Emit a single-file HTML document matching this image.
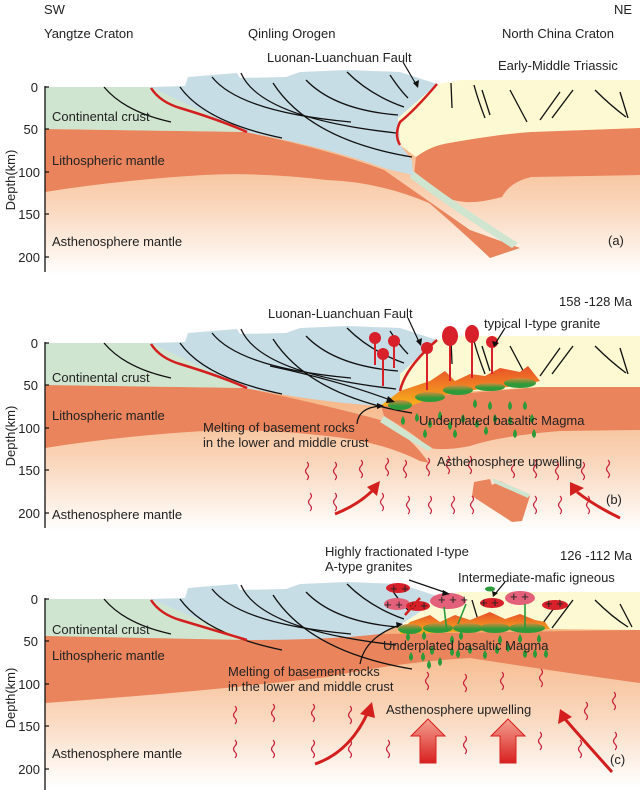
<!DOCTYPE html>
<html><head><meta charset="utf-8"><style>
html,body{margin:0;padding:0;background:#fff}
svg{display:block}
text{font-family:"Liberation Sans",Arial,sans-serif;font-size:13px;fill:#222}
</style></head><body>
<svg width="640" height="790" viewBox="0 0 640 790" xmlns="http://www.w3.org/2000/svg">
<defs>
<linearGradient id="ast" x1="0" y1="0" x2="0" y2="1">
<stop offset="0" stop-color="#f5b07c"/><stop offset="0.55" stop-color="#fad7bd"/><stop offset="1" stop-color="#ffffff"/>
</linearGradient>
<linearGradient id="melt" x1="0" y1="0" x2="0" y2="1">
<stop offset="0" stop-color="#e8502a"/><stop offset="1" stop-color="#f7b21c"/>
</linearGradient>
<linearGradient id="pond" x1="0" y1="0" x2="0" y2="1">
<stop offset="0" stop-color="#d88a3c"/><stop offset="0.6" stop-color="#2e9a3a"/>
</linearGradient>
<linearGradient id="bigarr" x1="0" y1="0" x2="0" y2="1">
<stop offset="0" stop-color="#f4a090"/><stop offset="1" stop-color="#d82020"/>
</linearGradient>
<g id="wave"><path d="M0,0 q3,3 0,6 q-3,3 0,6 q3,3 0,6" fill="none" stroke="#c8203c" stroke-width="1.2"/></g>
<g id="drop"><path d="M0,-5 q4,6 0,9 q-4,-3 0,-9z" fill="#2a9a3a"/></g>
<g id="orofaults" fill="none" stroke="#111" stroke-width="1.3">
<path d="M104,87 Q125,112 171,122"/>
<path d="M180,87 Q205,122 282,138"/>
<path d="M212,77 Q240,112 351,122"/>
<path d="M241,73 Q260,118 396,133"/>
<path d="M273,83 Q310,140 412,157"/>
<path d="M306,80 Q335,110 398,115"/>
<path d="M347,72 Q370,95 404,107"/>
<path d="M390,75 Q400,90 408,98"/>
</g>
<g id="nccfaults" fill="none" stroke="#111" stroke-width="1.3">
<path d="M451,83 L452,108"/><path d="M474,85 Q478,100 485,118"/><path d="M482,90 L490,115"/>
<path d="M510,90 L527,122"/><path d="M560,92 L540,120"/><path d="M573,90 L552,118"/>
<path d="M595,90 Q610,105 626,117"/><path d="M620,92 L628,118"/>
</g>
</defs>

<!-- header text -->
<text x="44" y="14">SW</text><text x="614" y="14">NE</text>
<text x="44" y="38">Yangtze Craton</text>
<text x="248" y="38">Qinling Orogen</text>
<text x="502" y="38">North China Craton</text>

<!-- ================= PANEL A ================= -->
<g>
<rect x="45" y="125" width="595" height="150" fill="url(#ast)"/>
<!-- left lith mantle + slab -->
<path d="M45,129 L245,132 Q330,150 384,170 Q420,195 470,230 L520,248 L490,258 Q455,225 429,203 Q380,182 327,180 Q260,172 204,175 Q120,180 45,192Z" fill="#e9845c"/>
<!-- ncc mantle -->
<path d="M414,175 L416,157 Q430,146 449,143 Q500,134 531,132 L640,128 L640,175 L531,177 Q510,182 502,197 Q480,203 465,202 Q440,200 420,180Z" fill="#e9845c"/>
<!-- slab green strip -->
<path d="M412,170 Q450,200 518,243 L512,248 Q460,215 410,178Z" fill="#cfe5cf"/>
<!-- green crust -->
<path d="M45,87 L160,87 L247,132 L45,129Z" fill="#cfe5cf"/>
<!-- blue orogen -->
<path d="M151,87 L185,86 L188,77 L237,73 L240,78 L286,77 L300,72 L347,70 L400,72 L437,84 L420,105 L398,118 L400,145 L412,160 L413,175 Q390,170 384,168 Q330,148 245,132 Z" fill="#c6dde6"/>
<!-- yellow ncc -->
<path d="M437,84 L460,80 L640,80 L640,128 L531,132 Q500,134 449,143 Q430,146 416,157 L400,145 L398,118 Z" fill="#fcf9d3"/>
<use href="#orofaults"/>
<use href="#nccfaults"/>
<path d="M151,88 Q160,102 180,108 Q220,120 247,132" fill="none" stroke="#d41f1f" stroke-width="2.5"/>
<path d="M437,84 Q415,110 400,122 Q394,135 400,145" fill="none" stroke="#d41f1f" stroke-width="2.5"/>
<path d="M403,62 L417,86" stroke="#111" stroke-width="1.2"/><path d="M413,83 L418,88 L419,80Z" fill="#111"/>
<!-- axis -->
<line x1="45" y1="86" x2="45" y2="272" stroke="#111" stroke-width="1.3"/>
<g stroke="#111" stroke-width="1.2"><line x1="45" y1="87" x2="49" y2="87"/><line x1="45" y1="129" x2="49" y2="129"/><line x1="45" y1="172" x2="49" y2="172"/><line x1="45" y1="214" x2="49" y2="214"/><line x1="45" y1="257" x2="49" y2="257"/></g>
<g text-anchor="end"><text x="38" y="92">0</text><text x="38" y="134">50</text><text x="40" y="177">100</text><text x="40" y="219">150</text><text x="40" y="262">200</text></g>
<text transform="translate(15,180) rotate(-90)" text-anchor="middle">Depth(km)</text>
<text x="267" y="62">Luonan-Luanchuan Fault</text>
<text x="498" y="70">Early-Middle Triassic</text>
<text x="52" y="121">Continental crust</text>
<text x="52" y="165">Lithospheric mantle</text>
<text x="52" y="246">Asthenosphere mantle</text>
<text x="608" y="245">(a)</text>
</g>

<!-- ================= PANEL B ================= -->
<g transform="translate(0,256)">
<rect x="45" y="125" width="595" height="150" fill="url(#ast)"/>
<path d="M45,129 L245,132 Q330,150 384,165 Q410,180 429,207 L420,205 Q380,185 327,180 Q260,172 204,175 Q120,180 45,192Z" fill="#e9845c"/>
<path d="M380,145 L539,131 L640,128 L640,174 L560,175 Q500,180 470,190 Q445,195 430,192 Q410,175 384,160Z" fill="#e9845c"/>
<path d="M384,160 Q410,178 432,192 L428,195 Q405,182 380,166Z" fill="#cfe5cf"/>
<!-- broken slab block -->
<path d="M474,226 L490,223 L492,229 L500,225 L530,240 L522,265 L512,266 L472,240Z" fill="#e9845c"/>
<path d="M492,222 L530,238 L528,242 L494,227Z" fill="#cfe5cf"/>
<path d="M45,87 L160,87 L247,132 L45,129Z" fill="#cfe5cf"/>
<path d="M151,87 L185,86 L188,77 L237,73 L240,78 L286,77 L300,72 L347,70 L400,72 L437,84 L420,105 L400,118 L400,135 L385,150 Q330,148 245,132 Z" fill="#c6dde6"/>
<path d="M437,84 L460,80 L640,80 L640,131 L539,131 L400,140 L400,118 Z" fill="#fcf9d3"/>
<use href="#orofaults"/>
<use href="#nccfaults"/>
<!-- melt zone -->
<path d="M380,150 L400,135 L430,125 L445,115 L455,125 L470,118 L485,120 L500,112 L520,116 L528,110 L540,125 L520,130 L480,133 L440,140 L410,150 Z" fill="url(#melt)"/>
<g fill="url(#pond)">
<ellipse cx="400" cy="149" rx="12" ry="5"/><ellipse cx="430" cy="141" rx="15" ry="5"/><ellipse cx="458" cy="134" rx="15" ry="5"/><ellipse cx="490" cy="131" rx="15" ry="4"/><ellipse cx="520" cy="127" rx="16" ry="5"/>
</g>
<!-- plutons -->
<g fill="#d8202a">
<circle cx="375" cy="82" r="6"/><rect x="374" y="84" width="2" height="25"/>
<circle cx="394" cy="85" r="6"/><rect x="393" y="87" width="2" height="25"/>
<circle cx="383" cy="98" r="6"/><rect x="382" y="100" width="2" height="30"/>
<circle cx="427" cy="92" r="6"/><rect x="426" y="94" width="2" height="40"/>
<ellipse cx="450" cy="80" rx="8" ry="10"/><rect x="449" y="85" width="2" height="40"/>
<ellipse cx="472" cy="78" rx="7" ry="9"/><rect x="471" y="82" width="2" height="40"/>
<circle cx="492" cy="86" r="6"/><rect x="491" y="88" width="2" height="30"/>
</g>
<path d="M151,88 Q160,102 180,108 Q220,120 247,132" fill="none" stroke="#d41f1f" stroke-width="2.5"/>
<path d="M437,84 Q405,112 400,135" fill="none" stroke="#d41f1f" stroke-width="2.5"/>
<path d="M408,62 L420,88" stroke="#111" stroke-width="1.2"/><path d="M416,85 L421,90 L422,82Z" fill="#111"/>
<path d="M505,72 L495,88" stroke="#111" stroke-width="1.2"/><path d="M492,85 L494,91 L499,87Z" fill="#111"/>
<path d="M270,110 Q340,125 390,144" fill="none" stroke="#111" stroke-width="1.2"/><path d="M388,140 L395,146 L386,147Z" fill="#111"/>
<path d="M357,168 Q358,152 380,150" fill="none" stroke="#111" stroke-width="1.2"/><path d="M377,147 L384,150 L377,153Z" fill="#111"/>
<g>
<use href="#drop" x="403" y="165"/><use href="#drop" x="417" y="162"/><use href="#drop" x="430" y="168"/><use href="#drop" x="440" y="160"/><use href="#drop" x="450" y="170"/><use href="#drop" x="463" y="163"/><use href="#drop" x="477" y="168"/><use href="#drop" x="495" y="163"/><use href="#drop" x="510" y="165"/><use href="#drop" x="532" y="163"/><use href="#drop" x="425" y="178"/><use href="#drop" x="455" y="178"/><use href="#drop" x="486" y="175"/><use href="#drop" x="515" y="178"/><use href="#drop" x="534" y="178"/>
<use href="#drop" x="475" y="148"/><use href="#drop" x="490" y="150"/><use href="#drop" x="510" y="150"/><use href="#drop" x="525" y="150"/>
</g>
<!-- waves -->
<g>
<use href="#wave" x="307" y="206"/><use href="#wave" x="335" y="206"/><use href="#wave" x="361" y="204"/><use href="#wave" x="387" y="202"/><use href="#wave" x="405" y="204"/><use href="#wave" x="428" y="202"/><use href="#wave" x="448" y="200"/><use href="#wave" x="470" y="200"/><use href="#wave" x="513" y="204"/><use href="#wave" x="535" y="204"/><use href="#wave" x="557" y="206"/><use href="#wave" x="583" y="206"/><use href="#wave" x="608" y="204"/>
<use href="#wave" x="310" y="237"/><use href="#wave" x="335" y="237"/><use href="#wave" x="382" y="237"/><use href="#wave" x="408" y="240"/><use href="#wave" x="430" y="240"/><use href="#wave" x="453" y="240"/><use href="#wave" x="472" y="240"/><use href="#wave" x="535" y="240"/><use href="#wave" x="560" y="240"/><use href="#wave" x="588" y="240"/>
</g>
<path d="M335,258 Q360,248 375,232" fill="none" stroke="#d41f1f" stroke-width="3"/><path d="M367,231 L380,225 L377,240Z" fill="#d41f1f"/>
<path d="M620,262 Q595,250 577,236" fill="none" stroke="#d41f1f" stroke-width="3"/><path d="M570,240 L570,226 L584,232Z" fill="#d41f1f"/>
<line x1="45" y1="86" x2="45" y2="272" stroke="#111" stroke-width="1.3"/>
<g stroke="#111" stroke-width="1.2"><line x1="45" y1="87" x2="49" y2="87"/><line x1="45" y1="129" x2="49" y2="129"/><line x1="45" y1="172" x2="49" y2="172"/><line x1="45" y1="214" x2="49" y2="214"/><line x1="45" y1="257" x2="49" y2="257"/></g>
<g text-anchor="end"><text x="38" y="92">0</text><text x="38" y="134">50</text><text x="40" y="177">100</text><text x="40" y="219">150</text><text x="40" y="262">200</text></g>
<text transform="translate(15,180) rotate(-90)" text-anchor="middle">Depth(km)</text>
<text x="632" y="50" text-anchor="end">158 -128 Ma</text>
<text x="268" y="62">Luonan-Luanchuan Fault</text>
<text x="484" y="72">typical I-type granite</text>
<text x="52" y="126">Continental crust</text>
<text x="52" y="164">Lithospheric mantle</text>
<text x="203" y="176">Melting of basement rocks</text>
<text x="203" y="191">in the lower and middle crust</text>
<text x="419" y="169">Underplated  basaltic Magma</text>
<text x="437" y="210">Asthenosphere upwelling</text>
<text x="52" y="263">Asthenosphere mantle</text>
<text x="606" y="248">(b)</text>
</g>

<!-- ================= PANEL C ================= -->
<g transform="translate(0,512)">
<rect x="45" y="115" width="595" height="160" fill="url(#ast)"/>
<path d="M45,122 L250,126 L380,122 L640,118 L640,171 Q560,160 470,146 Q400,150 327,165 Q200,180 45,191Z" fill="#e9845c"/>
<path d="M45,87 L160,87 L247,128 L45,124Z" fill="#cfe5cf"/>
<path d="M151,87 L185,86 L188,76 L237,72 L240,78 L286,77 L300,72 L347,70 L400,72 L437,84 L420,100 L405,110 L380,122 Q330,128 247,128 Z" fill="#c6dde6"/>
<path d="M437,84 L460,80 L640,80 L640,118 L540,117 L400,119 L405,110 L420,100 Z" fill="#fcf9d3"/>
<use href="#orofaults"/>
<g fill="none" stroke="#111" stroke-width="1.3"><path d="M560,88 L540,115"/><path d="M573,88 L552,116"/><path d="M595,88 Q612,105 628,115"/><path d="M620,92 L632,115"/><path d="M472,88 L478,108"/></g>
<path d="M400,120 L410,110 L430,103 L440,110 L455,103 L470,108 L490,100 L505,107 L520,102 L535,108 L545,110 L550,117 L400,122Z" fill="url(#melt)"/>
<g fill="url(#pond)">
<ellipse cx="410" cy="117" rx="12" ry="5"/><ellipse cx="438" cy="116" rx="15" ry="5"/><ellipse cx="468" cy="116" rx="15" ry="5"/><ellipse cx="495" cy="116" rx="15" ry="5"/><ellipse cx="527" cy="116" rx="18" ry="5"/>
</g>
<g>
<ellipse cx="397" cy="92" rx="13" ry="6" fill="#e2607a"/><ellipse cx="448" cy="89" rx="18" ry="8" fill="#e2607a"/><ellipse cx="520" cy="86" rx="15" ry="7" fill="#e2607a"/>
<ellipse cx="398" cy="76" rx="12" ry="5" fill="#d8202a"/><ellipse cx="418" cy="94" rx="12" ry="5" fill="#d8202a"/><ellipse cx="492" cy="91" rx="12" ry="5" fill="#d8202a"/><ellipse cx="555" cy="93" rx="13" ry="5" fill="#d8202a"/>
<path d="M444,95 L447,120 M466,92 L458,112 M525,92 L525,118" stroke="#2a9a3a" stroke-width="1.6" fill="none"/>
<ellipse cx="490" cy="77" rx="5" ry="2.5" fill="#2a9a3a"/>
</g>
<g font-size="9" fill="#222"><text x="390" y="81">+ +</text><text x="384" y="97">+ +</text><text x="438" y="92">+ + +</text><text x="480" y="95">+ +</text><text x="510" y="89">+ +</text><text x="545" y="96">+ +</text><text x="409" y="98">+ +</text></g>
<path d="M420,86 L405,103" stroke="#d41f1f" stroke-width="2.5"/>
<path d="M151,88 Q160,102 180,108 Q220,120 247,128" fill="none" stroke="#d41f1f" stroke-width="2.5"/>
<path d="M409,68 L447,81" stroke="#111" stroke-width="1.2"/><path d="M443,78 L450,82 L442,84Z" fill="#111"/>
<path d="M505,70 L495,82" stroke="#111" stroke-width="1.2"/><path d="M492,79 L493,85 L498,81Z" fill="#111"/>
<path d="M360,152 Q365,125 400,113" fill="none" stroke="#111" stroke-width="1.2"/><path d="M396,110 L403,112 L397,116Z" fill="#111"/>
<g>
<use href="#drop" x="408" y="125"/><use href="#drop" x="424" y="124"/><use href="#drop" x="452" y="128"/><use href="#drop" x="461" y="124"/><use href="#drop" x="500" y="128"/><use href="#drop" x="520" y="127"/><use href="#drop" x="539" y="127"/>
<use href="#drop" x="411" y="145"/><use href="#drop" x="423" y="145"/><use href="#drop" x="432" y="139"/><use href="#drop" x="452" y="140"/><use href="#drop" x="458" y="142"/><use href="#drop" x="470" y="138"/><use href="#drop" x="485" y="143"/><use href="#drop" x="497" y="138"/><use href="#drop" x="508" y="136"/><use href="#drop" x="525" y="142"/><use href="#drop" x="535" y="142"/><use href="#drop" x="546" y="142"/><use href="#drop" x="429" y="153"/><use href="#drop" x="440" y="150"/>
</g>
<g>
<use href="#wave" x="427" y="160"/><use href="#wave" x="465" y="162"/><use href="#wave" x="502" y="160"/><use href="#wave" x="541" y="157"/>
<use href="#wave" x="235" y="194"/><use href="#wave" x="273" y="192"/><use href="#wave" x="313" y="192"/><use href="#wave" x="350" y="194"/><use href="#wave" x="586" y="190"/><use href="#wave" x="614" y="180"/>
<use href="#wave" x="235" y="228"/><use href="#wave" x="273" y="228"/><use href="#wave" x="313" y="228"/><use href="#wave" x="350" y="228"/><use href="#wave" x="388" y="228"/><use href="#wave" x="465" y="224"/><use href="#wave" x="540" y="220"/><use href="#wave" x="580" y="228"/><use href="#wave" x="615" y="220"/>
</g>
<path d="M315,252 Q350,240 368,200" fill="none" stroke="#d41f1f" stroke-width="3"/><path d="M360,202 L372,190 L375,206Z" fill="#d41f1f"/>
<path d="M612,260 Q585,230 565,207" fill="none" stroke="#d41f1f" stroke-width="3"/><path d="M558,212 L560,197 L572,205Z" fill="#d41f1f"/>
<path d="M428,207 L445,224 L436,224 L436,251 L420,251 L420,224 L411,224Z" fill="url(#bigarr)" stroke="#d82020" stroke-width="1"/>
<path d="M508,207 L525,224 L516,224 L516,251 L500,251 L500,224 L491,224Z" fill="url(#bigarr)" stroke="#d82020" stroke-width="1"/>
<line x1="45" y1="86" x2="45" y2="278" stroke="#111" stroke-width="1.3"/>
<g stroke="#111" stroke-width="1.2"><line x1="45" y1="87" x2="49" y2="87"/><line x1="45" y1="129" x2="49" y2="129"/><line x1="45" y1="172" x2="49" y2="172"/><line x1="45" y1="214" x2="49" y2="214"/><line x1="45" y1="257" x2="49" y2="257"/></g>
<g text-anchor="end"><text x="38" y="92">0</text><text x="38" y="134">50</text><text x="40" y="177">100</text><text x="40" y="219">150</text><text x="40" y="262">200</text></g>
<text transform="translate(15,186) rotate(-90)" text-anchor="middle">Depth(km)</text>
<text x="632" y="48" text-anchor="end">126 -112 Ma</text>
<text x="325" y="44">Highly fractionated I-type</text>
<text x="325" y="59">A-type granites</text>
<text x="458" y="70">Intermediate-mafic igneous</text>
<text x="52" y="122">Continental crust</text>
<text x="52" y="148">Lithospheric mantle</text>
<text x="383" y="138">Underplated  basaltic Magma</text>
<text x="228" y="164">Melting of basement rocks</text>
<text x="228" y="179">in the lower and middle crust</text>
<text x="386" y="202">Asthenosphere upwelling</text>
<text x="52" y="246">Asthenosphere mantle</text>
<text x="610" y="252">(c)</text>
</g>
</svg>
</body></html>
